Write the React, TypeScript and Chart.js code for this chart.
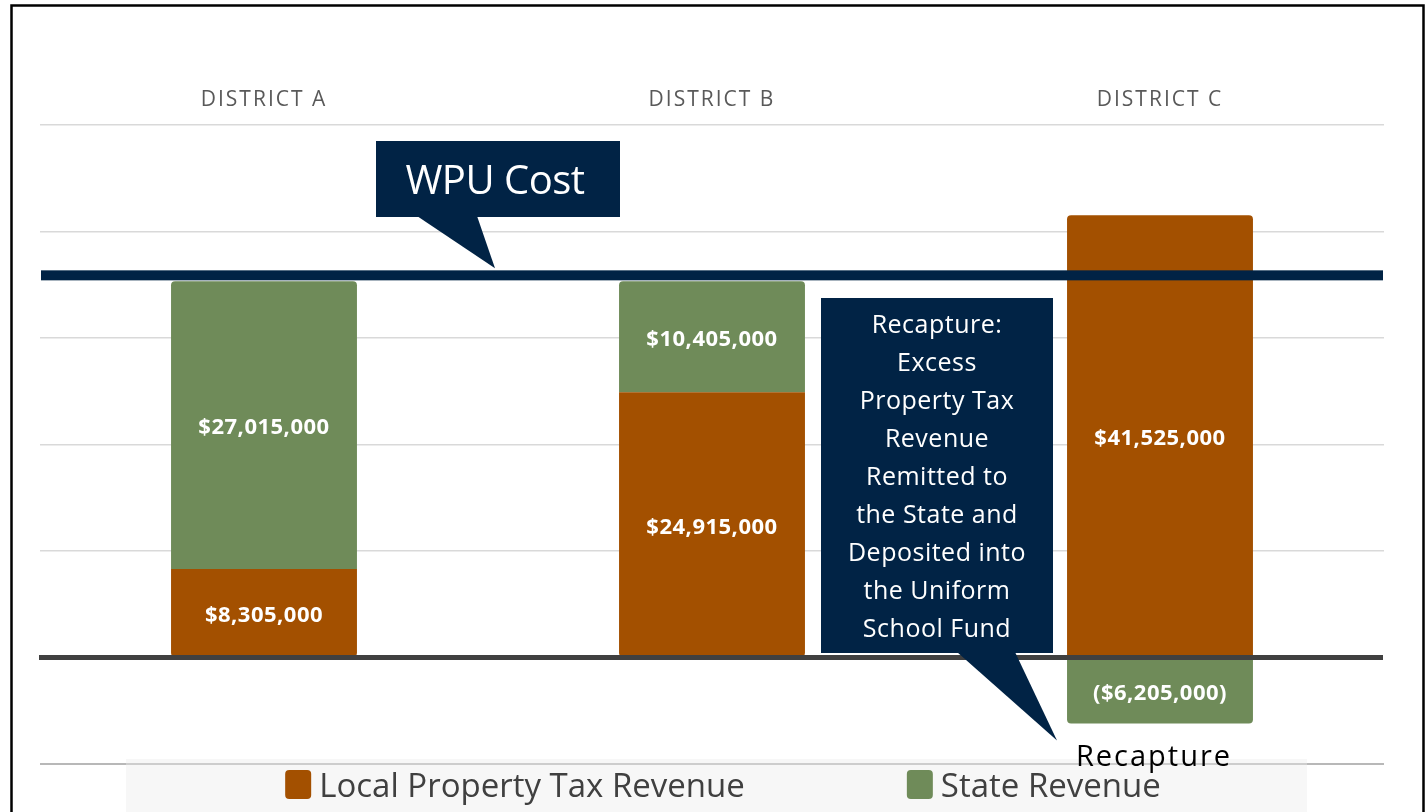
import React, { useEffect, useRef } from 'react';
import { Chart, registerables } from 'chart.js';

Chart.register(...registerables);

// ---------- data ----------
const categories = ['DISTRICT A', 'DISTRICT B', 'DISTRICT C'];
const seriesNames = ['Local Property Tax Revenue', 'State Revenue'];
const localPropertyTax = [8305000, 24915000, 41525000];
const stateRevenue = [27015000, 10405000, -6205000];
const wpuCost = 35320000;
const yMin = -10000000;
const yMax = 50000000;
const yStep = 10000000;
const wpuLabel = 'WPU Cost';
const recaptureNote = [
  'Recapture:',
  'Excess',
  'Property Tax',
  'Revenue',
  'Remitted to',
  'the State and',
  'Deposited into',
  'the Uniform',
  'School Fund',
];
const recaptureLabel = 'Recapture';

// ---------- styles ----------
const FONT = '"Open Sans", "Noto Sans", sans-serif';
const NAVY = '#012345';
const ORANGE = '#A35000';
const GREEN = '#6F8B59';
const seriesColors = [ORANGE, GREEN];

const fmt = (v: number) => {
  const s = '$' + Math.abs(v).toLocaleString('en-US');
  return v < 0 ? '(' + s + ')' : s;
};

const customPlugin = {
  id: 'customDraw',
  beforeDraw(chart: any) {
    const { ctx, chartArea, scales } = chart;
    const y = scales.y;
    const yb = y.getPixelForValue(yMin);
    ctx.save();
    ctx.strokeStyle = '#a0a0a0';
    ctx.lineWidth = 1.5;
    ctx.beginPath();
    ctx.moveTo(chartArea.left, yb);
    ctx.lineTo(chartArea.right, yb);
    ctx.stroke();
    // legend background band
    ctx.fillStyle = 'rgba(235,235,235,0.42)';
    ctx.fillRect(126, yb - 5, 1181, 60);
    ctx.restore();
    ctx.letterSpacing = '2px';
  },
  beforeDatasetsDraw(chart: any) {
    chart.ctx.letterSpacing = '0px';
  },
  afterDatasetsDraw(chart: any) {
    const { ctx, chartArea, scales } = chart;
    const y = scales.y;
    ctx.save();
    // zero line
    const y0 = y.getPixelForValue(0);
    ctx.fillStyle = '#404040';
    ctx.fillRect(chartArea.left - 1, y0 - 2.5, chartArea.right - chartArea.left, 5);
    // WPU cost line (bottom edge at the WPU value)
    const yw = y.getPixelForValue(wpuCost);
    ctx.fillStyle = NAVY;
    ctx.fillRect(chartArea.left + 1, yw - 11, chartArea.right - chartArea.left - 2, 10);

    // data labels
    ctx.fillStyle = '#ffffff';
    ctx.font = `bold 22px ${FONT}`;
    ctx.textAlign = 'center';
    ctx.textBaseline = 'middle';
    ctx.letterSpacing = '0.5px';
    chart.data.datasets.forEach((ds: any, di: number) => {
      const meta = chart.getDatasetMeta(di);
      meta.data.forEach((el: any, i: number) => {
        const v = ds.data[i];
        ctx.fillText(fmt(v), el.x, (el.y + el.base) / 2 + 3);
      });
    });
    ctx.letterSpacing = '0px';

    // WPU callout
    const tipY = yw - 13;
    ctx.fillStyle = NAVY;
    ctx.fillRect(376, 141, 244, 76);
    ctx.beginPath();
    ctx.moveTo(417, 216);
    ctx.lineTo(477, 216);
    ctx.lineTo(495, tipY);
    ctx.closePath();
    ctx.fill();
    ctx.fillStyle = '#ffffff';
    ctx.font = `40px ${FONT}`;
    ctx.textBaseline = 'alphabetic';
    ctx.textAlign = 'center';
    ctx.letterSpacing = '-0.5px';
    ctx.fillText(wpuLabel, 495, 194);
    ctx.letterSpacing = '0px';

    // Recapture callout
    const xs = scales.x;
    const cx = xs.getPixelForValue(2);
    const cBottom = y.getPixelForValue(stateRevenue[2]);
    ctx.fillStyle = NAVY;
    ctx.fillRect(821, 298, 232, 355);
    ctx.beginPath();
    ctx.moveTo(957, 652);
    ctx.lineTo(1015, 652);
    ctx.lineTo(cx - 103, cBottom + 17);
    ctx.closePath();
    ctx.fill();
    ctx.fillStyle = '#ffffff';
    ctx.font = `25px ${FONT}`;
    ctx.letterSpacing = '0.5px';
    recaptureNote.forEach((line, i) => {
      ctx.fillText(line, 937, 333 + i * 38);
    });
    ctx.restore();
  },
  afterDraw(chart: any) {
    const { ctx, chartArea, scales } = chart;
    const xs = scales.x;
    const y = scales.y;
    ctx.save();
    // legend
    ctx.font = `33px ${FONT}`;
    ctx.textBaseline = 'alphabetic';
    ctx.textAlign = 'left';
    const boxW = 26;
    const boxH = 29;
    const gap = 8;
    const itemGap = 162;
    const widths = seriesNames.map((n) => boxW + gap + ctx.measureText(n).width);
    const total = widths[0] + itemGap + widths[1];
    const center = (chartArea.left + chartArea.right) / 2 + 11;
    let lx = center - total / 2;
    const ly = y.getPixelForValue(yMin) + 6;
    seriesNames.forEach((n, i) => {
      ctx.fillStyle = seriesColors[i];
      ctx.beginPath();
      (ctx as any).roundRect(lx, ly, boxW, boxH, 4);
      ctx.fill();
      ctx.fillStyle = '#404040';
      ctx.fillText(n, lx + boxW + gap, ly + 27);
      lx += widths[i] + itemGap;
    });

    // Recapture label under District C
    ctx.fillStyle = '#000000';
    ctx.font = `29px ${FONT}`;
    ctx.textAlign = 'center';
    ctx.letterSpacing = '2px';
    ctx.fillText(recaptureLabel, xs.getPixelForValue(2) - 6, y.getPixelForValue(yMin) + 2);
    ctx.letterSpacing = '0px';

    // outer frame
    ctx.strokeStyle = '#000000';
    ctx.lineWidth = 2.5;
    ctx.strokeRect(11.5, 5.5, 1412, 830);
    ctx.restore();
  },
};

export default function App() {
  const ref = useRef<HTMLCanvasElement | null>(null);

  useEffect(() => {
    if (!ref.current) return;
    const radius = (ctx: any) => {
      const di = ctx.datasetIndex;
      const v = ctx.raw as number;
      const otherNeg = stateRevenue[ctx.dataIndex] < 0;
      if (di === 0) {
        return otherNeg
          ? { topLeft: 4, topRight: 4, bottomLeft: 0, bottomRight: 0 }
          : { topLeft: 0, topRight: 0, bottomLeft: 4, bottomRight: 4 };
      }
      return v < 0
        ? { topLeft: 0, topRight: 0, bottomLeft: 4, bottomRight: 4 }
        : { topLeft: 4, topRight: 4, bottomLeft: 0, bottomRight: 0 };
    };
    const chart = new Chart(ref.current, {
      type: 'bar',
      data: {
        labels: categories,
        datasets: [
          {
            label: seriesNames[0],
            data: localPropertyTax,
            backgroundColor: ORANGE,
            borderWidth: 0,
            borderSkipped: false,
            borderRadius: radius,
            categoryPercentage: 1,
            barPercentage: 0.415,
          },
          {
            label: seriesNames[1],
            data: stateRevenue,
            backgroundColor: GREEN,
            borderWidth: 0,
            borderSkipped: false,
            borderRadius: radius,
            categoryPercentage: 1,
            barPercentage: 0.415,
          },
        ],
      },
      options: {
        animation: false,
        responsive: true,
        maintainAspectRatio: false,
        layout: { padding: { left: 40, right: 43, top: 0, bottom: 48 } },
        plugins: {
          legend: { display: false },
          tooltip: { enabled: false },
        },
        scales: {
          x: {
            position: 'top',
            stacked: true,
            grid: { display: false, drawTicks: false },
            border: { display: false },
            ticks: {
              color: '#595959',
              font: { family: FONT, size: 21 },
              padding: 12,
            },
            afterFit: (s: any) => {
              s.height = 125;
            },
          },
          y: {
            stacked: true,
            min: yMin,
            max: yMax,
            ticks: { display: false, stepSize: yStep },
            grid: {
              drawTicks: false,
              lineWidth: 1.5,
              color: (c: any) =>
                c.tick && (c.tick.value === 0 || c.tick.value === yMin) ? 'rgba(0,0,0,0)' : '#d9d9d9',
            },
            border: { display: false },
            afterFit: (s: any) => {
              s.width = 0;
            },
          },
        },
      } as any,
      plugins: [customPlugin as any],
    });
    return () => chart.destroy();
  }, []);

  return (
    <div style={{ position: 'fixed', left: 0, top: 0, width: 1427, height: 812, background: '#ffffff' }}>
      <canvas ref={ref} />
    </div>
  );
}
